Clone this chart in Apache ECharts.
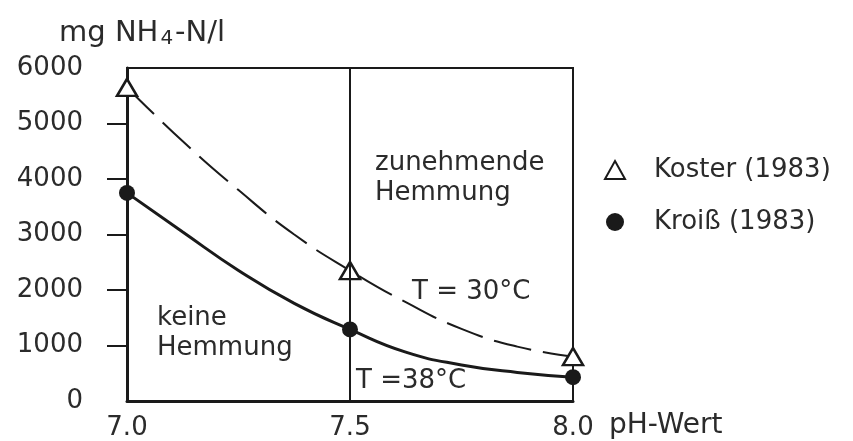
<!DOCTYPE html>
<html>
<head>
<meta charset="utf-8">
<script src="https://cdn.jsdelivr.net/npm/echarts@6/dist/echarts.min.js"></script>
<style>
html,body{margin:0;padding:0;background:#fff;}
#chart{width:853px;height:441px;}
</style>
</head>
<body>
<div id="chart"></div>
<script>
// measured points (markers)
const phValues = [7.0, 7.5, 8.0];
const kosterValues = [5650, 2350, 800];
const kroissValues = [3750, 1290, 430];
// fitted curves as drawn in the figure
const phCurve = [7.0, 7.125, 7.25, 7.375, 7.5, 7.625, 7.75, 7.875, 8.0];
const kosterCurve = [5650, 4680, 3800, 3000, 2350, 1780, 1300, 980, 800];
const kroissCurve = [3750, 3045, 2353, 1760, 1290, 880, 650, 515, 430];
const yTicks = [1000, 2000, 3000, 4000, 5000];
const xTickLabels = ['7.0', '7.5', '8.0'];
const seriesNames = ['Koster (1983)', 'Kroiß (1983)'];

const FONT = 'DejaVu Sans';
const INK = '#1a1a1a';
const TXT = '#2b2b2b';

const chart = echarts.init(document.getElementById('chart'), null, {renderer: 'canvas'});

const pairs = (xs, ys) => xs.map((x, i) => [x, ys[i]]);

chart.setOption({
  backgroundColor: '#ffffff',
  animation: false,
  title: {
    text: 'mg NH{sub|4}-N/l',
    left: 54,
    top: 12,
    textStyle: {
      fontFamily: FONT, fontSize: 29, fontWeight: 'normal', color: TXT,
      rich: { sub: { fontFamily: FONT, fontSize: 20, color: TXT, padding: [12, 2, 0, 2] } }
    }
  },
  grid: {
    left: 127, right: 280, top: 68, bottom: 39,
    show: true, borderColor: INK, borderWidth: 2, backgroundColor: 'transparent'
  },
  legend: {
    orient: 'vertical',
    left: 599, top: 150,
    itemWidth: 20, itemHeight: 18,
    itemGap: 22,
    data: seriesNames,
    textStyle: { fontFamily: FONT, fontSize: 26, color: TXT, lineHeight: 30, padding: [0, 0, 0, 24] }
  },
  xAxis: {
    type: 'value', min: 7.0, max: 8.0, interval: 0.5,
    name: 'pH-Wert', nameLocation: 'end', nameGap: 36,
    nameTextStyle: { fontFamily: FONT, fontSize: 28, color: TXT, align: 'left', verticalAlign: 'top', padding: [11, 0, 0, 0] },
    axisLine: { show: true, lineStyle: { color: INK, width: 3 } },
    axisTick: { show: false },
    splitLine: { show: false },
    axisLabel: {
      fontFamily: FONT, fontSize: 26, color: TXT, margin: 14,
      formatter: v => xTickLabels[Math.round((v - 7.0) / 0.5)] || ''
    }
  },
  yAxis: {
    type: 'value', min: 0, max: 6000, interval: 1000,
    axisLine: { show: true, lineStyle: { color: INK, width: 3 } },
    axisTick: { show: true, inside: false, length: 20, lineStyle: { color: INK, width: 2 }, customValues: yTicks },
    splitLine: { show: false },
    axisLabel: { fontFamily: FONT, fontSize: 26, color: TXT, margin: 44, formatter: v => String(v) }
  },
  series: [
    {
      type: 'line', name: 'koster-curve', data: pairs(phCurve, kosterCurve),
      smooth: 0.5, showSymbol: false, symbol: 'none',
      lineStyle: { color: INK, width: 2, type: [38, 12] }, z: 2, silent: true,
      markLine: {
        silent: true, symbol: ['none', 'none'],
        label: { show: false },
        lineStyle: { color: INK, width: 2, type: 'solid' },
        data: [{ xAxis: 7.5 }]
      }
    },
    {
      type: 'line', name: 'kroiss-curve', data: pairs(phCurve, kroissCurve),
      smooth: 0.5, showSymbol: false, symbol: 'none',
      lineStyle: { color: INK, width: 3 }, z: 2, silent: true
    },
    {
      type: 'scatter', name: seriesNames[0], data: pairs(phValues, kosterValues),
      symbol: 'triangle', symbolSize: [20, 17],
      itemStyle: { color: '#ffffff', borderColor: INK, borderWidth: 2.5, opacity: 1 }, z: 4
    },
    {
      type: 'scatter', name: seriesNames[1], data: pairs(phValues, kroissValues),
      symbol: 'circle', symbolSize: 16,
      itemStyle: { color: INK, opacity: 1 }, z: 4
    }
  ],
  graphic: [
    { type: 'text', left: 375, top: 148, style: { text: 'zunehmende\nHemmung', font: '26px "DejaVu Sans"', fill: TXT, lineHeight: 30 } },
    { type: 'text', left: 157, top: 303, style: { text: 'keine\nHemmung', font: '26px "DejaVu Sans"', fill: TXT, lineHeight: 30 } },
    { type: 'text', left: 412, top: 279, style: { text: 'T = 30°C', font: '26px "DejaVu Sans"', fill: TXT } },
    { type: 'text', left: 356, top: 368, style: { text: 'T =38°C', font: '26px "DejaVu Sans"', fill: TXT } }
  ]
});
</script>
</body>
</html>
